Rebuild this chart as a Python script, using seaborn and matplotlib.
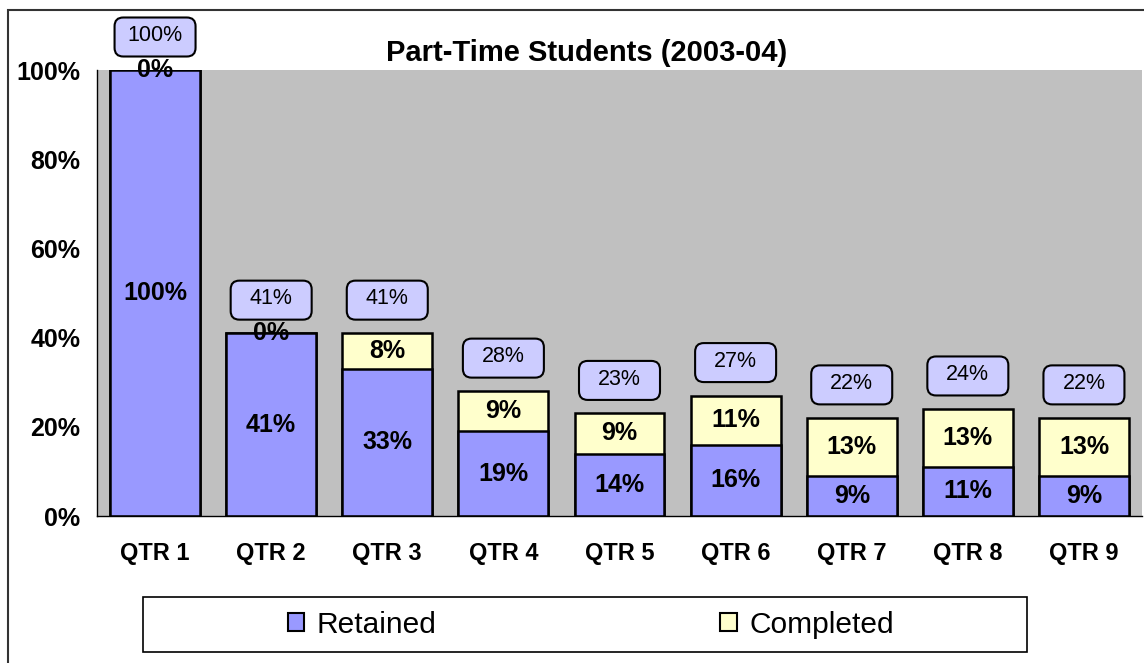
import matplotlib
matplotlib.use("Agg")
import matplotlib.pyplot as plt
from matplotlib.patches import FancyBboxPatch, Rectangle, Patch
from matplotlib.ticker import FixedLocator
import seaborn as sns
import pandas as pd

# ---- data ----
quarters = ["QTR 1", "QTR 2", "QTR 3", "QTR 4", "QTR 5", "QTR 6", "QTR 7", "QTR 8", "QTR 9"]
retained = [100, 41, 33, 19, 14, 16, 9, 11, 9]
completed = [0, 0, 8, 9, 9, 11, 13, 13, 13]
y_ticks = [0, 20, 40, 60, 80, 100]
title = "Part-Time Students (2003-04)"

total = [r + c for r, c in zip(retained, completed)]
df = pd.DataFrame({"quarter": quarters, "retained": retained,
                   "completed": completed, "total": total})

# ---- style ----
sns.set_style("white")
plt.rcParams["font.family"] = ["Liberation Sans", "DejaVu Sans"]
plt.rcParams["text.color"] = "black"
plt.rcParams["xtick.color"] = "black"
plt.rcParams["ytick.color"] = "black"
plt.rcParams["xtick.labelcolor"] = "black"
plt.rcParams["ytick.labelcolor"] = "black"

BLUE = "#9999FF"
YELLOW = "#FFFFCC"
GRAY = "#C0C0C0"
BOX = "#CCCCFF"

W, H, DPI = 11.44, 6.63, 100
fig = plt.figure(figsize=(W, H), dpi=DPI)
ax_pos = [97 / 1144, 1 - 516 / 663, (1142 - 97) / 1144, (516 - 70) / 663]
ax = fig.add_axes(ax_pos)
ax.set_facecolor(GRAY)

bar_w = 0.775
sns.barplot(data=df, x="quarter", y="total", color=YELLOW, saturation=1,
            edgecolor="black", linewidth=1.8, width=bar_w, ax=ax, zorder=2)
sns.barplot(data=df, x="quarter", y="retained", color=BLUE, saturation=1,
            edgecolor="black", linewidth=1.8, width=bar_w, ax=ax, zorder=3)

ax.set_ylim(0, 100)
ax.set_xlim(-0.5, len(quarters) - 0.5)
ax.set_xlabel("")
ax.set_ylabel("")

# y axis
ax.set_yticks(y_ticks)
ax.set_yticklabels([f"{v}%" for v in y_ticks], fontsize=18, fontweight="bold")
ax.tick_params(axis="y", direction="out", length=5, width=1, color="black", pad=7)

# x axis: labels at centers, ticks between categories
ax.tick_params(axis="x", which="major", length=0, pad=19)
for lab in ax.get_xticklabels():
    lab.set_fontsize(17)
    lab.set_fontweight("bold")
ax.xaxis.set_minor_locator(FixedLocator([i - 0.5 for i in range(len(quarters) + 1)]))
ax.tick_params(axis="x", which="minor", direction="out", length=5, width=1, color="black")

for s in ["top", "right"]:
    ax.spines[s].set_visible(False)
for s in ["left", "bottom"]:
    ax.spines[s].set_color("black")
    ax.spines[s].set_linewidth(1)
    ax.spines[s].set_zorder(5)

# segment labels
for i in range(len(quarters)):
    ax.text(i, retained[i] / 2, f"{retained[i]}%", ha="center", va="center",
            fontsize=18, fontweight="bold", zorder=6)
    ax.text(i, retained[i] + completed[i] / 2, f"{completed[i]}%", ha="center",
            va="center", fontsize=18, fontweight="bold", zorder=6)

# total label boxes (rounded, fixed size)
px_x = ax_pos[2] * W * DPI / len(quarters)
px_y = ax_pos[3] * H * DPI / 100.0
aspect = px_x / px_y
box_w = 81 / px_x
box_h = 39 / px_y
off = 33 / px_y
for i in range(len(quarters)):
    cy = total[i] + off
    patch = FancyBboxPatch((i - box_w / 2, cy - box_h / 2), box_w, box_h,
                           boxstyle="round,pad=0,rounding_size=0.075",
                           mutation_aspect=aspect, facecolor=BOX,
                           edgecolor="black", linewidth=1.5, clip_on=False, zorder=7)
    ax.add_patch(patch)
    ax.text(i, cy + 0.3, f"{total[i]}%", ha="center", va="center", fontsize=15.5,
            zorder=8, clip_on=False)

# title
fig.text(587 / 1144, 1 - 53 / 663, title, ha="center", va="center",
         fontsize=21, fontweight="bold")

# outer chart frame
fig.patches.append(Rectangle((8 / 1144, -0.05), 1.2, 1 - 10 / 663 + 0.05,
                             transform=fig.transFigure, fill=False,
                             edgecolor="#333333", linewidth=1.5, zorder=0))

# legend frame
fig.patches.append(Rectangle((143 / 1144, 1 - 652 / 663), 884 / 1144, 55 / 663,
                             transform=fig.transFigure, facecolor="white",
                             edgecolor="black", linewidth=1.2, zorder=1))

handles = [Patch(facecolor=BLUE, edgecolor="black", linewidth=1.5, label="Retained"),
           Patch(facecolor=YELLOW, edgecolor="black", linewidth=1.5, label="Completed")]
leg = fig.legend(handles=handles, loc="center", bbox_to_anchor=(591 / 1144, 1 - 625 / 663),
                 ncol=2, frameon=False, fontsize=21.5, handlelength=0.55, handleheight=0.55,
                 handletextpad=0.43, columnspacing=9.5, borderaxespad=0)
leg.set_zorder(3)

fig.savefig("out.png", dpi=DPI)
